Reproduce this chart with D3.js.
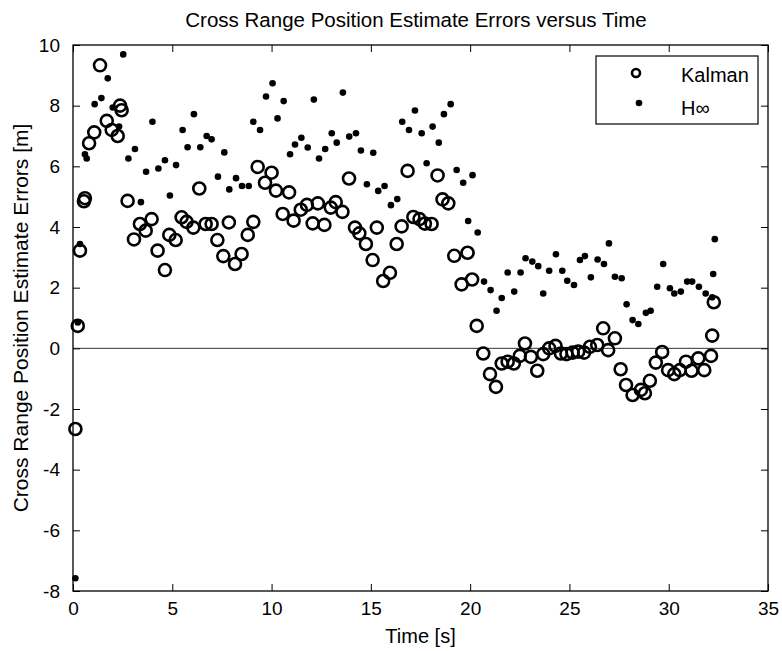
<!DOCTYPE html>
<html>
<head>
<meta charset="utf-8">
<script src="https://cdn.jsdelivr.net/npm/d3@7"></script>
<style>
  body { margin: 0; background: #fff; }
  svg text { font-family: "Liberation Sans", Arial, sans-serif; fill: #000; }
</style>
</head>
<body>
<div id="chart"></div>
<script>
// Data
const kalmanTime = [0.12, 0.24, 0.35, 0.55, 0.6, 0.81, 1.07, 1.36, 1.7, 1.95, 2.25, 2.37, 2.45, 2.75,
  3.07, 3.37, 3.66, 3.96, 4.26, 4.63, 4.85, 5.17, 5.47, 5.72, 6.06, 6.36, 6.68, 6.98, 7.27, 7.57,
  7.85, 8.16, 8.49, 8.8, 9.08, 9.3, 9.67, 10.0, 10.22, 10.56, 10.88, 11.11, 11.47, 11.78, 12.07,
  12.33, 12.66, 12.98, 13.23, 13.57, 13.9, 14.2, 14.42, 14.75, 15.09, 15.3, 15.62, 15.96, 16.3,
  16.55, 16.85, 17.14, 17.45, 17.72, 18.06, 18.36, 18.61, 18.9, 19.2, 19.57, 19.87, 20.1, 20.33,
  20.66, 21.0, 21.3, 21.59, 21.89, 22.2, 22.5, 22.76, 23.06, 23.38, 23.68, 23.98, 24.3, 24.57,
  24.85, 25.16, 25.44, 25.74, 26.03, 26.4, 26.7, 26.95, 27.29, 27.58, 27.85, 28.18, 28.6, 28.8,
  29.05, 29.35, 29.67, 29.97, 30.28, 30.56, 30.87, 31.15, 31.49, 31.79, 32.13, 32.19, 32.27]
const kalmanErr = [-2.66, 0.74, 3.22, 4.85, 4.95, 6.76, 7.12, 9.33, 7.5, 7.2, 7.0, 8.0, 7.85, 4.86,
  3.59, 4.1, 3.88, 4.26, 3.22, 2.58, 3.74, 3.57, 4.32, 4.17, 3.98, 5.27, 4.1, 4.1, 3.57, 3.04,
  4.15, 2.78, 3.11, 3.74, 4.17, 5.98, 5.46, 5.79, 5.2, 4.43, 5.14, 4.21, 4.57, 4.73, 4.12,
  4.78, 4.07, 4.64, 4.82, 4.5, 5.6, 3.98, 3.79, 3.44, 2.91, 3.98, 2.22, 2.49, 3.44,
  4.02, 5.85, 4.33, 4.26, 4.11, 4.1, 5.7, 4.91, 4.78, 3.05, 2.11, 3.15, 2.27, 0.74,
  -0.17, -0.85, -1.27, -0.5, -0.44, -0.5, -0.25, 0.16, -0.28, -0.74, -0.19, 0.0, 0.08, -0.17,
  -0.19, -0.14, -0.11, -0.14, 0.05, 0.11, 0.66, -0.06, 0.33, -0.69, -1.21, -1.54, -1.37, -1.48,
  -1.07, -0.47, -0.12, -0.72, -0.85, -0.72, -0.44, -0.74, -0.33, -0.72, -0.25, 0.42, 1.52]

const hinfTime = [0.12, 0.24, 0.35, 0.6, 0.69, 1.09, 1.43, 1.75, 2.0, 2.32, 2.53, 2.79, 3.12, 3.42,
  3.68, 4.0, 4.3, 4.63, 4.88, 5.19, 5.52, 5.77, 6.09, 6.41, 6.73, 6.98, 7.3, 7.62, 7.87, 8.21,
  8.51, 8.85, 9.08, 9.42, 9.72, 10.05, 10.3, 10.61, 10.93, 11.18, 11.5, 11.82, 12.13, 12.39,
  12.7, 13.03, 13.28, 13.59, 13.91, 14.25, 14.5, 14.8, 15.12, 15.37, 15.69, 16.01, 16.33, 16.58,
  16.92, 17.22, 17.56, 17.81, 18.11, 18.42, 18.68, 19.02, 19.32, 19.65, 19.9, 20.12, 20.38, 20.7,
  21.03, 21.33, 21.59, 21.89, 22.22, 22.54, 22.79, 23.13, 23.43, 23.68, 23.98, 24.32, 24.64,
  24.89, 25.23, 25.53, 25.78, 26.08, 26.42, 26.74, 26.99, 27.29, 27.63, 27.88, 28.18, 28.47,
  28.85, 29.09, 29.42, 29.72, 30.06, 30.28, 30.61, 30.93, 31.18, 31.52, 31.86, 32.19, 32.24, 32.32]
const hinfErr = [-7.58, 0.85, 3.44, 6.4, 6.26, 8.05, 8.25, 8.9, 7.94, 7.31, 9.69, 6.26, 6.57, 4.82,
  5.82, 7.47, 5.93, 6.2, 5.04, 6.04, 7.2, 6.63, 7.72, 6.63, 7.0, 6.89, 5.66, 6.46, 5.24, 5.61,
  5.35, 5.35, 7.47, 7.2, 8.3, 8.74, 7.58, 8.15, 6.4, 6.72, 6.94, 6.62, 8.2, 6.26,
  6.57, 7.09, 6.78, 8.43, 6.98, 7.09, 6.52, 5.41, 6.45, 5.19, 5.35, 4.72, 4.92, 7.47,
  7.2, 7.84, 7.09, 6.1, 7.31, 6.78, 7.72, 8.05, 5.88, 5.46, 4.2, 5.71, 3.82, 2.2,
  1.92, 1.24, 1.66, 2.5, 1.87, 2.5, 2.97, 2.86, 2.71, 1.81, 2.56, 3.1, 2.56,
  2.23, 2.09, 2.91, 3.04, 2.34, 2.93, 2.78, 3.46, 2.36, 2.31, 1.45, 0.93, 0.8,
  1.17, 1.24, 2.03, 2.78, 1.98, 1.81, 1.87, 2.2, 2.2, 2.03, 1.81, 1.68, 2.45, 3.6]

const xTicks = [0, 5, 10, 15, 20, 25, 30, 35]
const yTicks = [-8, -6, -4, -2, 0, 2, 4, 6, 8, 10]
const seriesNames = ['Kalman', 'H\u221E']

const width = 782, height = 651
const margin = { top: 45, right: 14, bottom: 60, left: 73 }
const plotW = width - margin.left - margin.right
const plotH = height - margin.top - margin.bottom

const svg = d3.select('#chart')
  .append('svg')
  .attr('width', width)
  .attr('height', height)

const x = d3.scaleLinear().domain([0, 35]).range([0, plotW])
const y = d3.scaleLinear().domain([-8, 10]).range([plotH, 0])

// plain hyphen minus like the original
const fmt = d => String(d)

const g = svg.append('g')
  .attr('transform', `translate(${margin.left},${margin.top})`)

// zero line
g.append('line')
  .attr('x1', 0).attr('x2', plotW)
  .attr('y1', y(0)).attr('y2', y(0))
  .attr('stroke', '#333')
  .attr('stroke-width', 1)

// axes with inward ticks
const tickLen = -7
const styleAxis = sel => {
  sel.select('.domain').remove()
  sel.selectAll('line').attr('stroke', '#000')
  sel.selectAll('text')
    .attr('fill', '#000')
    .style('font-size', '19px')
}

g.append('g')
  .attr('transform', `translate(0,${plotH})`)
  .call(d3.axisBottom(x).tickValues(xTicks).tickSize(tickLen).tickPadding(11).tickFormat(fmt))
  .call(styleAxis)

g.append('g')
  .call(d3.axisTop(x).tickValues(xTicks).tickSize(tickLen).tickFormat(''))
  .call(styleAxis)

g.append('g')
  .call(d3.axisLeft(y).tickValues(yTicks).tickSize(tickLen).tickPadding(13).tickFormat(fmt))
  .call(styleAxis)

g.append('g')
  .attr('transform', `translate(${plotW},0)`)
  .call(d3.axisRight(y).tickValues(yTicks).tickSize(tickLen).tickFormat(''))
  .call(styleAxis)

// frame
g.append('rect')
  .attr('width', plotW)
  .attr('height', plotH)
  .attr('fill', 'none')
  .attr('stroke', '#000')
  .attr('stroke-width', 1.3)

// Kalman circles
g.append('g')
  .selectAll('circle')
  .data(kalmanTime)
  .join('circle')
  .attr('cx', d => x(d))
  .attr('cy', (d, i) => y(kalmanErr[i]))
  .attr('r', 6)
  .attr('fill', 'none')
  .attr('stroke', '#000')
  .attr('stroke-width', 2.6)

// H-infinity dots
g.append('g')
  .selectAll('circle')
  .data(hinfTime)
  .join('circle')
  .attr('cx', d => x(d))
  .attr('cy', (d, i) => y(hinfErr[i]))
  .attr('r', 3.3)
  .attr('fill', '#000')

// legend
const legend = svg.append('g')
  .attr('transform', 'translate(596,56)')
legend.append('rect')
  .attr('width', 162)
  .attr('height', 68)
  .attr('fill', '#fff')
  .attr('stroke', '#000')
  .attr('stroke-width', 1.2)
legend.append('circle')
  .attr('cx', 40).attr('cy', 17).attr('r', 4)
  .attr('fill', 'none').attr('stroke', '#000').attr('stroke-width', 2.6)
legend.append('circle')
  .attr('cx', 43).attr('cy', 47).attr('r', 3.3)
  .attr('fill', '#000')
legend.selectAll('text')
  .data(seriesNames)
  .join('text')
  .attr('x', 85)
  .attr('y', (d, i) => 26 + i * 33)
  .style('font-size', '20px')
  .text(d => d)

// title and labels
svg.append('text')
  .attr('x', 416)
  .attr('y', 27)
  .attr('text-anchor', 'middle')
  .style('font-size', '20.5px')
  .text('Cross Range Position Estimate Errors versus Time')

svg.append('text')
  .attr('x', margin.left + plotW / 2)
  .attr('y', 643)
  .attr('text-anchor', 'middle')
  .style('font-size', '20px')
  .text('Time [s]')

svg.append('text')
  .attr('transform', `translate(28,${margin.top + plotH / 2}) rotate(-90)`)
  .attr('text-anchor', 'middle')
  .style('font-size', '21px')
  .text('Cross Range Position Estimate Errors [m]')
</script>
</body>
</html>
